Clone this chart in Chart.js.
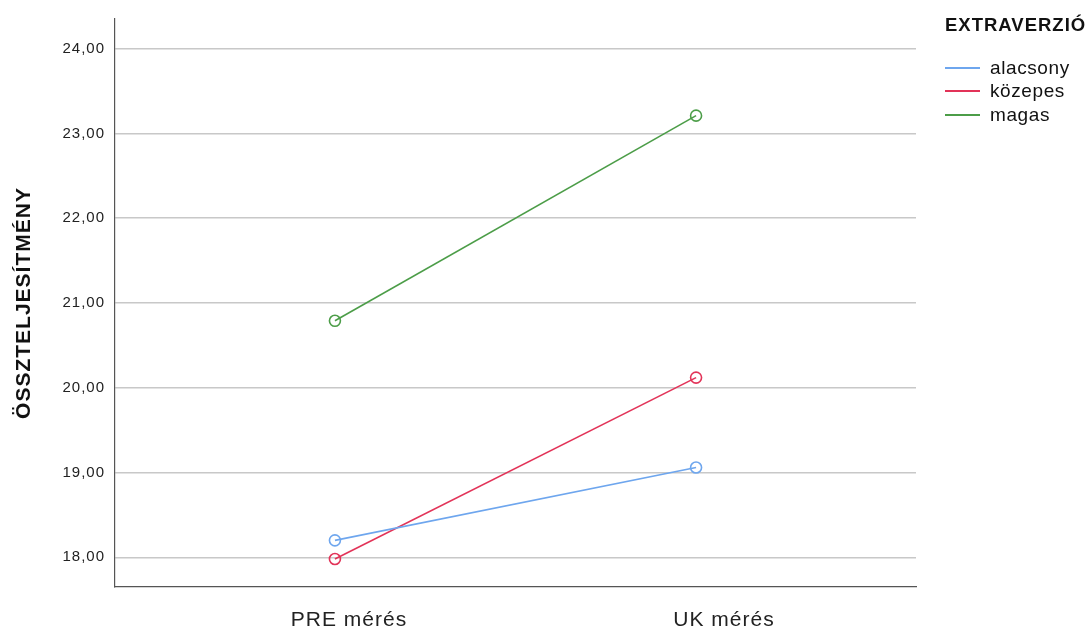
<!DOCTYPE html>
<html>
<head>
<meta charset="utf-8">
<script src="https://cdn.jsdelivr.net/npm/chart.js@4"></script>
<style>
  html, body { margin: 0; padding: 0; background: #fff; }
  #wrap { position: relative; width: 1089px; height: 628px; overflow: hidden; font-family: "Liberation Sans", Arial, sans-serif; }
  #legend { position: absolute; left: 945px; top: 13px; white-space: nowrap; color: #111; }
  #legend .title { font-weight: bold; font-size: 18.5px; letter-spacing: 1px; height: 24px; line-height: 24px; margin-bottom: 19px; }
  #legend .item { height: 23.5px; display: flex; align-items: center; font-size: 19px; letter-spacing: 0.6px; }
  #legend .swatch { width: 35px; height: 2px; margin-right: 10px; }
</style>
</head>
<body>
<div id="wrap">
  <canvas id="chart" width="1089" height="628"></canvas>
  <div id="legend"></div>
</div>
<script>
// ===== Data =====
const categories = ['PRE mérés', 'UK mérés'];
const groups = ['alacsony', 'közepes', 'magas'];
const alacsony = [18.20, 19.06];
const kozepes = [17.98, 20.12];
const magas = [20.79, 23.21];
const yTicks = [18, 19, 20, 21, 22, 23, 24];
const colors = ['#6ea6ee', '#e23358', '#4c9d48'];

const series = [alacsony, kozepes, magas];
const font = 'Liberation Sans';

const datasets = series.map((vals, i) => ({
  label: groups[i],
  data: vals.map((v, j) => ({ x: j, y: v })),
  borderColor: colors[i],
  backgroundColor: 'rgba(0,0,0,0)',
  borderWidth: 1.6,
  pointRadius: 5.5,
  pointBorderWidth: 1.6,
  pointBackgroundColor: 'rgba(0,0,0,0)',
  pointBorderColor: colors[i],
  tension: 0
}));

// the reference text is set a bit wide, so space the letters out a little
const spacing = {
  id: 'spacing',
  beforeLayout: chart => { chart.ctx.letterSpacing = '1px'; },
  beforeDraw: chart => { chart.ctx.letterSpacing = '1px'; }
};

const catTicks = axis => { axis.ticks = categories.map((c, i) => ({ value: i })); };

new Chart(document.getElementById('chart'), {
  type: 'line',
  data: { datasets: datasets },
  plugins: [spacing],
  options: {
    responsive: false,
    animation: false,
    layout: { padding: { left: 0, right: 173, top: 18, bottom: 0 } },
    plugins: { legend: { display: false }, tooltip: { enabled: false } },
    scales: {
      x: {
        type: 'linear',
        min: -0.609,
        max: 1.609,
        afterBuildTicks: catTicks,
        afterFit: axis => { axis.height = 0; },
        grid: { display: false, drawTicks: false },
        border: { display: true, color: '#555', width: 1.2 },
        ticks: { display: false }
      },
      // label axis: in the reference the category labels sit a little right of the points
      xl: {
        type: 'linear',
        position: 'bottom',
        min: -0.624,
        max: 1.512,
        afterBuildTicks: catTicks,
        afterFit: axis => { axis.height = 41; },
        grid: { display: false, drawTicks: false },
        border: { display: false },
        ticks: {
          callback: v => categories[v],
          color: '#222',
          font: { family: font, size: 21 },
          padding: 21,
          maxRotation: 0
        }
      },
      y: {
        min: 17.65,
        max: 24.35,
        afterBuildTicks: axis => { axis.ticks = yTicks.map(v => ({ value: v })); },
        afterFit: axis => { axis.width = 115; },
        grid: { color: '#c8c8c8', lineWidth: 1.6, drawTicks: false },
        border: { display: true, color: '#555', width: 1.2 },
        ticks: {
          callback: v => v.toFixed(2).replace('.', ','),
          color: '#222',
          font: { family: font, size: 15 },
          padding: 10
        },
        title: {
          display: true,
          text: 'ÖSSZTELJESÍTMÉNY',
          color: '#111',
          font: { family: font, size: 21, weight: 'bold' },
          padding: { top: 12, bottom: 0 }
        }
      }
    }
  }
});

// ===== Legend =====
const legend = document.getElementById('legend');
legend.innerHTML = '<div class="title">EXTRAVERZIÓ</div>' +
  groups.map((g, i) =>
    `<div class="item"><span class="swatch" style="background:${colors[i]}"></span>${g}</div>`
  ).join('');
</script>
</body>
</html>
